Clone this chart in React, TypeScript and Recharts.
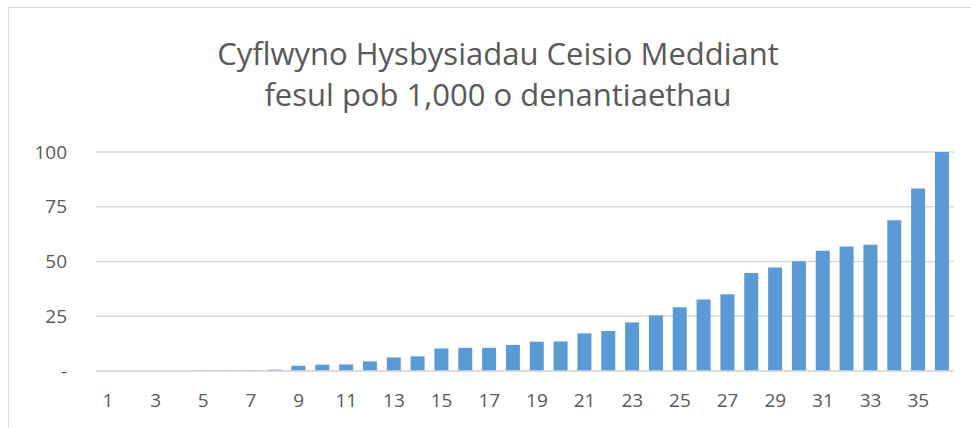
import { BarChart, Bar, XAxis, YAxis, CartesianGrid } from 'recharts';

const categories = Array.from({ length: 36 }, (_, i) => String(i + 1));
const values = [
  0, 0, 0, 0, 0.15, 0.2, 0.3, 0.6, 2.4, 2.9, 3.0, 4.4, 6.2, 6.7, 10.3, 10.6, 10.6, 11.9,
  13.4, 13.5, 17.2, 18.3, 22.2, 25.4, 29.1, 32.7, 35.0, 44.7, 47.3, 50.1, 54.9, 56.9,
  57.7, 68.8, 83.3, 100,
];
const yTicks = [0, 25, 50, 75, 100];

const data = categories.map((c, i) => ({ name: c, value: values[i] }));

const FONT = '"Open Sans", sans-serif';
const TEXT = '#595959';

export default function App() {
  return (
    <div
      style={{
        position: 'absolute',
        left: 8,
        top: 7,
        width: 970,
        height: 430,
        borderLeft: '1px solid #d9d9d9',
        borderTop: '1px solid #d9d9d9',
        background: '#fff',
        fontFamily: FONT,
        overflow: 'hidden',
      }}
    >
      <div
        style={{
          position: 'absolute',
          left: 0,
          width: 978,
          top: 25,
          textAlign: 'center',
          color: TEXT,
          fontSize: 31,
          lineHeight: '41px',
        }}
      >
        <div>Cyflwyno Hysbysiadau Ceisio Meddiant</div>
        <div>fesul pob 1,000 o denantiaethau</div>
      </div>
      <BarChart
        width={962}
        height={420}
        data={data}
        margin={{ top: 144, right: 17, left: 0, bottom: 17 }}
        barCategoryGap="20%"
      >
        <CartesianGrid vertical={false} stroke="#d9d9d9" strokeWidth={1.5} />
        <XAxis
          dataKey="name"
          interval={1}
          height={40}
          axisLine={{ stroke: '#d9d9d9', strokeWidth: 1.5 }}
          tickLine={false}
          tickSize={0}
          tickMargin={23}
          tick={{ fill: TEXT, fontSize: 19, fontFamily: FONT }}
        />
        <YAxis
          width={87}
          domain={[0, 100]}
          ticks={yTicks}
          axisLine={false}
          tickLine={false}
          tickSize={0}
          tickMargin={29}
          tickFormatter={(v) => (v === 0 ? '-' : String(v))}
          tick={{ fill: TEXT, fontSize: 19, fontFamily: FONT }}
        />
        <Bar dataKey="value" fill="#5b9bd5" isAnimationActive={false} />
      </BarChart>
    </div>
  );
}
